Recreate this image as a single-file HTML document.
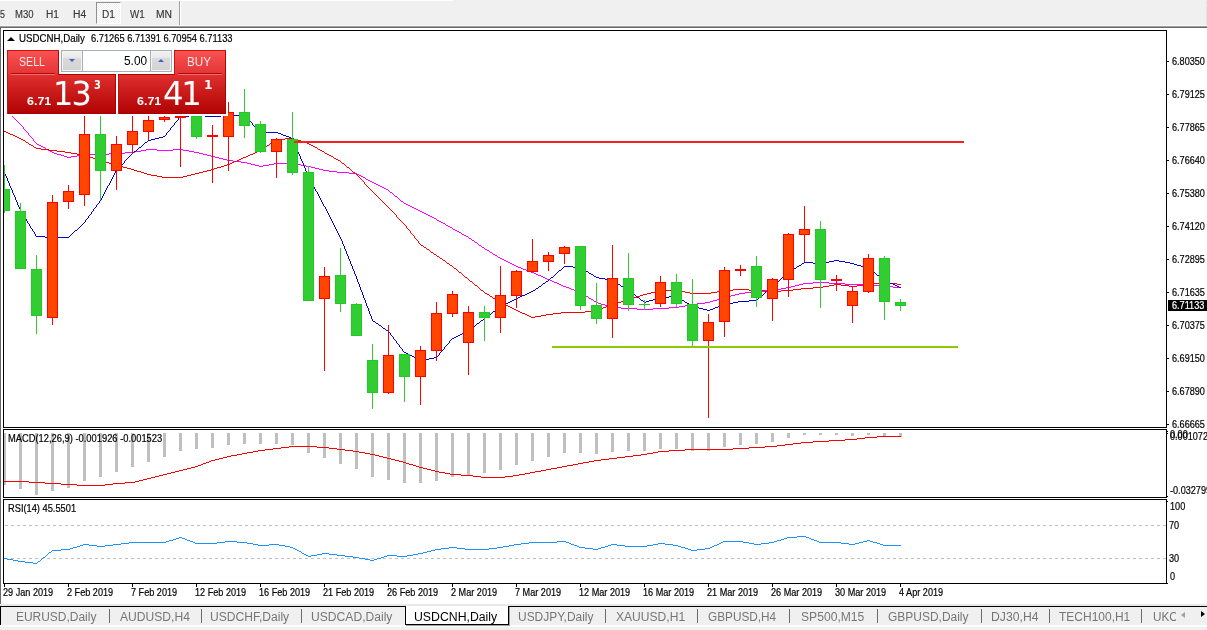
<!DOCTYPE html>
<html><head><meta charset="utf-8"><title>USDCNH,Daily</title>
<style>
html,body{margin:0;padding:0}
body{width:1207px;height:630px;position:relative;overflow:hidden;background:#fff;font-family:"Liberation Sans",sans-serif}
div{position:absolute;white-space:nowrap}
.ax{font-size:9.5px;line-height:12px;color:#000;letter-spacing:-0.2px}
.tf{font-size:10px;line-height:12px;top:8px;color:#333;letter-spacing:-0.2px}
.tab{font-size:12px;line-height:14px;top:609px;color:#808080;letter-spacing:-0.1px}
.sep{top:609px;width:1px;height:14px;background:#6c6c6c}
</style></head><body>
<!-- toolbar -->
<div style="left:0;top:0;width:1207px;height:26px;background:#f0f0f0"></div>
<div style="left:0;top:25px;width:1207px;height:1px;background:#f8f8f8"></div>
<div style="left:0;top:0;width:453px;height:1px;background:#fff"></div>
<div style="left:1206px;top:1px;width:1px;height:24px;background:#e4e4e4"></div>
<div style="left:0;top:26px;width:1207px;height:1px;background:#a0a0a0"></div>
<div style="left:0;top:27px;width:1207px;height:1px;background:#696969"></div>
<div style="left:0;top:27px;width:1px;height:577px;background:#696969"></div>
<div style="left:96px;top:2px;width:23px;height:20px;background:repeating-conic-gradient(#fff 0 25%,#f0f0f0 0 50%) 0 0/2px 2px;border:1px solid #fff;border-top-color:#909090;border-left-color:#909090;box-sizing:content-box"></div>
<div style="left:179px;top:1px;width:1px;height:24px;background:#a0a0a0"></div>
<div style="left:180px;top:1px;width:1px;height:24px;background:#fff"></div>
<div style="left:0.45px;top:9.80px;font-size:10px;line-height:1;color:#383838;transform:scaleX(0.884);transform-origin:0 0;-webkit-text-stroke:0.15px #383838;">5</div>
<div style="left:14.94px;top:9.80px;font-size:10px;line-height:1;color:#383838;transform:scaleX(0.951);transform-origin:0 0;-webkit-text-stroke:0.15px #383838;">M30</div>
<div style="left:45.59px;top:9.80px;font-size:10px;line-height:1;color:#383838;transform:scaleX(1.009);transform-origin:0 0;-webkit-text-stroke:0.15px #383838;">H1</div>
<div style="left:72.87px;top:9.80px;font-size:10px;line-height:1;color:#383838;transform:scaleX(1.034);transform-origin:0 0;-webkit-text-stroke:0.15px #383838;">H4</div>
<div style="left:101.89px;top:9.80px;font-size:10px;line-height:1;color:#383838;transform:scaleX(1.009);transform-origin:0 0;-webkit-text-stroke:0.15px #383838;">D1</div>
<div style="left:129.95px;top:9.80px;font-size:10px;line-height:1;color:#383838;transform:scaleX(0.979);transform-origin:0 0;-webkit-text-stroke:0.15px #383838;">W1</div>
<div style="left:155.77px;top:9.80px;font-size:10px;line-height:1;color:#383838;transform:scaleX(1.032);transform-origin:0 0;-webkit-text-stroke:0.15px #383838;">MN</div>
<svg width="1207" height="630" viewBox="0 0 1207 630" style="position:absolute;left:0;top:0" shape-rendering="crispEdges">
<defs><clipPath id="cm"><rect x="4" y="31" width="1162" height="396"/></clipPath><clipPath id="cd"><rect x="4" y="430" width="1162" height="67"/></clipPath><clipPath id="cr"><rect x="4" y="500" width="1162" height="83"/></clipPath></defs>
<g fill="#000">
<rect x="3" y="30" width="1164" height="1"/>
<rect x="3" y="30" width="1" height="554"/>
<rect x="1166" y="30" width="1" height="398"/>
<rect x="3" y="427" width="1164" height="1"/>
<rect x="3" y="429" width="1164" height="1"/>
<rect x="1166" y="429" width="1" height="69"/>
<rect x="3" y="497" width="1164" height="1"/>
<rect x="3" y="499" width="1164" height="1"/>
<rect x="1166" y="499" width="1" height="85"/>
<rect x="3" y="583" width="1164" height="1"/>
</g>
<rect x="3" y="428" width="1164" height="1" fill="#fff"/><rect x="3" y="498" width="1164" height="1" fill="#fff"/>
<g fill="#000">
<rect x="1167" y="61" width="2" height="1"/>
<rect x="1167" y="94" width="2" height="1"/>
<rect x="1167" y="127" width="2" height="1"/>
<rect x="1167" y="160" width="2" height="1"/>
<rect x="1167" y="193" width="2" height="1"/>
<rect x="1167" y="226" width="2" height="1"/>
<rect x="1167" y="259" width="2" height="1"/>
<rect x="1167" y="292" width="2" height="1"/>
<rect x="1167" y="325" width="2" height="1"/>
<rect x="1167" y="358" width="2" height="1"/>
<rect x="1167" y="391" width="2" height="1"/>
<rect x="1167" y="424" width="2" height="1"/>
<rect x="1167" y="431" width="1" height="1"/>
<rect x="1167" y="433" width="1" height="1"/>
<rect x="1167" y="496" width="1" height="1"/>
<rect x="1167" y="501" width="1" height="1"/>
<rect x="1167" y="583" width="1" height="1"/>
<rect x="4" y="584" width="1" height="3"/>
<rect x="68" y="584" width="1" height="3"/>
<rect x="132" y="584" width="1" height="3"/>
<rect x="196" y="584" width="1" height="3"/>
<rect x="260" y="584" width="1" height="3"/>
<rect x="324" y="584" width="1" height="3"/>
<rect x="388" y="584" width="1" height="3"/>
<rect x="452" y="584" width="1" height="3"/>
<rect x="516" y="584" width="1" height="3"/>
<rect x="580" y="584" width="1" height="3"/>
<rect x="644" y="584" width="1" height="3"/>
<rect x="708" y="584" width="1" height="3"/>
<rect x="772" y="584" width="1" height="3"/>
<rect x="836" y="584" width="1" height="3"/>
<rect x="900" y="584" width="1" height="3"/>
</g>
<g clip-path="url(#cm)">
<path d="M4 107h1v1h-1zM5 108h1v1h-1zM6 109h1v1h-1zM7 110h1v1h-1zM8 111h1v1h-1zM9 112h1v1h-1zM10 113h1v1h-1zM11 114h1v1h-1zM12 115h1v2h-1zM13 117h1v1h-1zM14 118h1v1h-1zM15 119h1v1h-1zM16 120h1v1h-1zM17 121h1v1h-1zM18 122h1v1h-1zM19 123h1v1h-1zM20 124h1v1h-1zM21 125h1v1h-1zM22 126h1v1h-1zM23 127h1v2h-1zM24 129h1v1h-1zM25 130h1v1h-1zM26 131h1v1h-1zM27 132h1v1h-1zM28 133h1v2h-1zM29 135h1v1h-1zM30 136h1v1h-1zM31 137h1v1h-1zM32 138h1v1h-1zM33 139h1v2h-1zM34 141h1v1h-1zM35 142h1v1h-1zM36 143h1v1h-1zM37 144h2v1h-2zM39 145h2v1h-2zM41 146h2v1h-2zM43 147h2v1h-2zM45 148h1v1h-1zM46 149h2v1h-2zM48 150h2v1h-2zM50 151h2v1h-2zM52 152h2v1h-2zM54 153h3v1h-3zM57 154h4v1h-4zM61 155h3v1h-3zM64 156h3v1h-3zM67 157h4v1h-4zM71 156h6v1h-6zM77 155h5v1h-5zM82 154h27v1h-27zM109 153h16v1h-16zM125 152h10v1h-10zM135 151h6v1h-6zM141 150h5v1h-5zM146 149h11v1h-11zM157 150h16v1h-16zM173 149h10v1h-10zM183 150h6v1h-6zM189 151h5v1h-5zM194 152h5v1h-5zM199 153h4v1h-4zM203 154h4v1h-4zM207 155h4v1h-4zM211 156h4v1h-4zM215 157h4v1h-4zM219 158h4v1h-4zM223 159h4v1h-4zM227 160h6v1h-6zM233 161h8v1h-8zM241 162h6v1h-6zM247 163h4v1h-4zM251 164h4v1h-4zM255 165h4v1h-4zM259 166h4v1h-4zM263 165h6v1h-6zM269 164h5v1h-5zM274 163h21v1h-21zM295 164h6v1h-6zM301 165h5v1h-5zM306 166h5v1h-5zM311 167h4v1h-4zM315 168h4v1h-4zM319 169h4v1h-4zM323 170h6v1h-6zM329 171h8v1h-8zM337 172h12v1h-12zM349 173h8v1h-8zM357 174h2v1h-2zM359 175h2v1h-2zM361 176h2v1h-2zM363 177h2v1h-2zM365 178h1v1h-1zM366 179h2v1h-2zM368 180h2v1h-2zM370 181h2v1h-2zM372 182h2v1h-2zM374 183h2v1h-2zM376 184h2v1h-2zM378 185h2v1h-2zM380 186h2v1h-2zM382 187h2v1h-2zM384 188h2v1h-2zM386 189h2v1h-2zM388 190h1v1h-1zM389 191h1v1h-1zM390 192h2v1h-2zM392 193h1v1h-1zM393 194h1v1h-1zM394 195h1v1h-1zM395 196h2v1h-2zM397 197h1v1h-1zM398 198h1v1h-1zM399 199h1v1h-1zM400 200h1v1h-1zM401 201h2v1h-2zM403 202h1v1h-1zM404 203h2v1h-2zM406 204h2v1h-2zM408 205h2v1h-2zM410 206h2v1h-2zM412 207h2v1h-2zM414 208h2v1h-2zM416 209h2v1h-2zM418 210h2v1h-2zM420 211h2v1h-2zM422 212h2v1h-2zM424 213h2v1h-2zM426 214h2v1h-2zM428 215h2v1h-2zM430 216h2v1h-2zM432 217h2v1h-2zM434 218h2v1h-2zM436 219h1v1h-1zM437 220h2v1h-2zM439 221h2v1h-2zM441 222h2v1h-2zM443 223h2v1h-2zM445 224h1v1h-1zM446 225h2v1h-2zM448 226h2v1h-2zM450 227h2v1h-2zM452 228h1v1h-1zM453 229h2v1h-2zM455 230h2v1h-2zM457 231h2v1h-2zM459 232h2v1h-2zM461 233h1v1h-1zM462 234h2v1h-2zM464 235h2v1h-2zM466 236h2v1h-2zM468 237h1v1h-1zM469 238h2v1h-2zM471 239h1v1h-1zM472 240h2v1h-2zM474 241h1v1h-1zM475 242h2v1h-2zM477 243h1v1h-1zM478 244h1v1h-1zM479 245h2v1h-2zM481 246h1v1h-1zM482 247h2v1h-2zM484 248h1v1h-1zM485 249h2v1h-2zM487 250h2v1h-2zM489 251h1v1h-1zM490 252h2v1h-2zM492 253h1v1h-1zM493 254h2v1h-2zM495 255h2v1h-2zM497 256h1v1h-1zM498 257h2v1h-2zM500 258h2v1h-2zM502 259h2v1h-2zM504 260h2v1h-2zM506 261h2v1h-2zM508 262h2v1h-2zM510 263h2v1h-2zM512 264h2v1h-2zM514 265h2v1h-2zM516 266h2v1h-2zM518 267h3v1h-3zM521 268h2v1h-2zM523 269h3v1h-3zM526 270h3v1h-3zM529 271h2v1h-2zM531 272h3v1h-3zM534 273h2v1h-2zM536 274h2v1h-2zM538 275h3v1h-3zM541 276h2v1h-2zM543 277h2v1h-2zM545 278h2v1h-2zM547 279h3v1h-3zM550 280h2v1h-2zM552 281h2v1h-2zM554 282h3v1h-3zM557 283h2v1h-2zM559 284h2v1h-2zM561 285h2v1h-2zM563 286h3v1h-3zM566 287h3v1h-3zM569 288h2v1h-2zM571 289h3v1h-3zM574 290h3v1h-3zM577 291h2v1h-2zM579 292h2v1h-2zM581 293h2v1h-2zM583 294h2v1h-2zM585 295h1v1h-1zM586 296h2v1h-2zM588 297h1v1h-1zM589 298h2v1h-2zM591 299h2v1h-2zM593 300h1v1h-1zM594 301h2v1h-2zM596 302h2v1h-2zM598 303h3v1h-3zM601 304h4v1h-4zM605 305h3v1h-3zM608 306h3v1h-3zM611 307h10v1h-10zM621 308h16v1h-16zM637 309h16v1h-16zM653 308h16v1h-16zM669 307h10v1h-10zM679 306h6v1h-6zM685 305h5v1h-5zM690 304h7v1h-7zM697 303h8v1h-8zM705 302h5v1h-5zM710 301h3v1h-3zM713 300h4v1h-4zM717 299h3v1h-3zM720 298h3v1h-3zM723 297h4v1h-4zM727 296h4v1h-4zM731 295h4v1h-4zM735 294h4v1h-4zM739 293h6v1h-6zM745 292h8v1h-8zM753 291h12v1h-12zM765 290h10v1h-10zM775 289h6v1h-6zM781 288h5v1h-5zM786 287h5v1h-5zM791 286h4v1h-4zM795 285h4v1h-4zM799 284h4v1h-4zM803 283h10v1h-10zM813 282h16v1h-16zM829 283h16v1h-16zM845 284h28v1h-28zM873 285h8v1h-8zM881 286h12v1h-12zM893 287h8v1h-8z" fill="#ff00ff" />
<path d="M4 131h2v1h-2zM6 132h2v1h-2zM8 133h2v1h-2zM10 134h3v1h-3zM13 135h2v1h-2zM15 136h2v1h-2zM17 137h2v1h-2zM19 138h2v1h-2zM21 139h2v1h-2zM23 140h2v1h-2zM25 141h1v1h-1zM26 142h2v1h-2zM28 143h1v1h-1zM29 144h2v1h-2zM31 145h2v1h-2zM33 146h1v1h-1zM34 147h2v1h-2zM36 148h5v1h-5zM41 149h8v1h-8zM49 150h8v1h-8zM57 151h8v1h-8zM65 152h6v1h-6zM71 153h6v1h-6zM77 154h5v1h-5zM82 155h4v1h-4zM86 156h3v1h-3zM89 157h4v1h-4zM93 158h3v1h-3zM96 159h3v1h-3zM99 160h3v1h-3zM102 161h3v1h-3zM105 162h4v1h-4zM109 163h3v1h-3zM112 164h3v1h-3zM115 165h4v1h-4zM119 166h4v1h-4zM123 167h4v1h-4zM127 168h4v1h-4zM131 169h3v1h-3zM134 170h3v1h-3zM137 171h4v1h-4zM141 172h3v1h-3zM144 173h3v1h-3zM147 174h4v1h-4zM151 175h6v1h-6zM157 176h5v1h-5zM162 177h21v1h-21zM183 176h4v1h-4zM187 175h4v1h-4zM191 174h4v1h-4zM195 173h4v1h-4zM199 172h4v1h-4zM203 171h4v1h-4zM207 170h4v1h-4zM211 169h3v1h-3zM214 168h3v1h-3zM217 167h4v1h-4zM221 166h3v1h-3zM224 165h3v1h-3zM227 164h3v1h-3zM230 163h2v1h-2zM232 162h2v1h-2zM234 161h3v1h-3zM237 160h2v1h-2zM239 159h2v1h-2zM241 158h2v1h-2zM243 157h3v1h-3zM246 156h2v1h-2zM248 155h2v1h-2zM250 154h3v1h-3zM253 153h2v1h-2zM255 152h2v1h-2zM257 151h2v1h-2zM259 150h2v1h-2zM261 149h2v1h-2zM263 148h1v1h-1zM264 147h2v1h-2zM266 146h1v1h-1zM267 145h2v1h-2zM269 144h1v1h-1zM270 143h1v1h-1zM271 142h2v1h-2zM273 141h1v1h-1zM274 140h2v1h-2zM276 139h9v1h-9zM285 138h9v1h-9zM294 139h3v1h-3zM297 140h4v1h-4zM301 141h3v1h-3zM304 142h3v1h-3zM307 143h2v1h-2zM309 144h2v1h-2zM311 145h2v1h-2zM313 146h2v1h-2zM315 147h2v1h-2zM317 148h1v1h-1zM318 149h2v1h-2zM320 150h2v1h-2zM322 151h2v1h-2zM324 152h1v1h-1zM325 153h2v1h-2zM327 154h2v1h-2zM329 155h2v1h-2zM331 156h2v1h-2zM333 157h1v1h-1zM334 158h2v1h-2zM336 159h2v1h-2zM338 160h2v1h-2zM340 161h1v1h-1zM341 162h1v1h-1zM342 163h2v1h-2zM344 164h1v1h-1zM345 165h1v1h-1zM346 166h1v1h-1zM347 167h2v1h-2zM349 168h1v1h-1zM350 169h1v1h-1zM351 170h1v1h-1zM352 171h1v1h-1zM353 172h2v1h-2zM355 173h1v1h-1zM356 174h1v1h-1zM357 175h1v1h-1zM358 176h1v1h-1zM359 177h1v1h-1zM360 178h1v1h-1zM361 179h1v1h-1zM362 180h1v1h-1zM363 181h1v1h-1zM364 182h1v2h-1zM365 184h1v1h-1zM366 185h1v1h-1zM367 186h1v1h-1zM368 187h1v1h-1zM369 188h1v1h-1zM370 189h1v1h-1zM371 190h1v1h-1zM372 191h1v1h-1zM373 192h1v1h-1zM374 193h1v1h-1zM375 194h1v1h-1zM376 195h1v1h-1zM377 196h1v1h-1zM378 197h1v1h-1zM379 198h1v1h-1zM380 199h1v1h-1zM381 200h1v1h-1zM382 201h1v1h-1zM383 202h1v1h-1zM384 203h1v1h-1zM385 204h1v1h-1zM386 205h1v1h-1zM387 206h1v1h-1zM388 207h1v1h-1zM389 208h1v1h-1zM390 209h1v1h-1zM391 210h1v1h-1zM392 211h1v1h-1zM393 212h1v1h-1zM394 213h1v1h-1zM395 214h1v1h-1zM396 215h1v2h-1zM397 217h1v1h-1zM398 218h1v1h-1zM399 219h1v1h-1zM400 220h1v1h-1zM401 221h1v1h-1zM402 222h1v1h-1zM403 223h1v1h-1zM404 224h1v1h-1zM405 225h1v1h-1zM406 226h1v2h-1zM407 228h1v1h-1zM408 229h1v1h-1zM409 230h1v1h-1zM410 231h1v2h-1zM411 233h1v1h-1zM412 234h1v1h-1zM413 235h1v1h-1zM414 236h1v2h-1zM415 238h1v1h-1zM416 239h1v1h-1zM417 240h1v1h-1zM418 241h1v2h-1zM419 243h1v1h-1zM420 244h1v1h-1zM421 245h2v1h-2zM423 246h1v1h-1zM424 247h2v1h-2zM426 248h1v1h-1zM427 249h2v1h-2zM429 250h1v1h-1zM430 251h1v1h-1zM431 252h2v1h-2zM433 253h1v1h-1zM434 254h2v1h-2zM436 255h1v1h-1zM437 256h2v1h-2zM439 257h1v1h-1zM440 258h2v1h-2zM442 259h1v1h-1zM443 260h2v1h-2zM445 261h1v1h-1zM446 262h1v1h-1zM447 263h2v1h-2zM449 264h1v1h-1zM450 265h2v1h-2zM452 266h1v1h-1zM453 267h1v1h-1zM454 268h2v1h-2zM456 269h1v1h-1zM457 270h1v1h-1zM458 271h1v1h-1zM459 272h2v1h-2zM461 273h1v1h-1zM462 274h1v1h-1zM463 275h1v1h-1zM464 276h1v1h-1zM465 277h2v1h-2zM467 278h1v1h-1zM468 279h1v1h-1zM469 280h1v1h-1zM470 281h2v1h-2zM472 282h1v1h-1zM473 283h1v1h-1zM474 284h1v1h-1zM475 285h2v1h-2zM477 286h1v1h-1zM478 287h1v1h-1zM479 288h1v1h-1zM480 289h1v1h-1zM481 290h2v1h-2zM483 291h1v1h-1zM484 292h1v1h-1zM485 293h2v1h-2zM487 294h2v1h-2zM489 295h1v1h-1zM490 296h2v1h-2zM492 297h1v1h-1zM493 298h2v1h-2zM495 299h2v1h-2zM497 300h1v1h-1zM498 301h2v1h-2zM500 302h2v1h-2zM502 303h2v1h-2zM504 304h2v1h-2zM506 305h2v1h-2zM508 306h2v1h-2zM510 307h2v1h-2zM512 308h2v1h-2zM514 309h2v1h-2zM516 310h2v1h-2zM518 311h2v1h-2zM520 312h2v1h-2zM522 313h3v1h-3zM525 314h2v1h-2zM527 315h2v1h-2zM529 316h2v1h-2zM531 317h4v1h-4zM535 316h6v1h-6zM541 315h5v1h-5zM546 314h7v1h-7zM553 313h8v1h-8zM561 312h24v1h-24zM585 311h8v1h-8zM593 310h5v1h-5zM598 309h3v1h-3zM601 308h2v1h-2zM603 307h3v1h-3zM606 306h3v1h-3zM609 305h2v1h-2zM611 304h3v1h-3zM614 303h3v1h-3zM617 302h4v1h-4zM621 301h3v1h-3zM624 300h3v1h-3zM627 299h3v1h-3zM630 298h3v1h-3zM633 297h4v1h-4zM637 296h3v1h-3zM640 295h3v1h-3zM643 294h4v1h-4zM647 293h4v1h-4zM651 292h4v1h-4zM655 291h4v1h-4zM659 290h20v1h-20zM679 291h6v1h-6zM685 292h5v1h-5zM690 293h21v1h-21zM711 292h6v1h-6zM717 291h5v1h-5zM722 290h11v1h-11zM733 289h16v1h-16zM749 290h16v1h-16zM765 291h16v1h-16zM781 290h12v1h-12zM793 289h8v1h-8zM801 288h12v1h-12zM813 287h10v1h-10zM823 286h6v1h-6zM829 285h5v1h-5zM834 284h7v1h-7zM841 285h8v1h-8zM849 286h8v1h-8zM857 285h8v1h-8zM865 284h8v1h-8zM873 283h8v1h-8zM881 282h8v1h-8zM889 283h8v1h-8zM897 284h4v1h-4z" fill="#ff0000" />
<path d="M4 172h1v2h-1zM5 174h1v2h-1zM6 176h1v2h-1zM7 178h1v3h-1zM8 181h1v2h-1zM9 183h1v3h-1zM10 186h1v2h-1zM11 188h1v2h-1zM12 190h1v3h-1zM13 193h1v2h-1zM14 195h1v2h-1zM15 197h1v3h-1zM16 200h1v2h-1zM17 202h1v3h-1zM18 205h1v2h-1zM19 207h1v2h-1zM20 209h1v2h-1zM21 211h1v2h-1zM22 213h1v2h-1zM23 215h1v1h-1zM24 216h1v2h-1zM25 218h1v1h-1zM26 219h1v2h-1zM27 221h1v2h-1zM28 223h1v1h-1zM29 224h1v2h-1zM30 226h1v2h-1zM31 228h1v1h-1zM32 229h1v2h-1zM33 231h1v1h-1zM34 232h1v2h-1zM35 234h1v2h-1zM36 236h9v1h-9zM45 237h24v1h-24zM69 236h1v1h-1zM70 235h1v1h-1zM71 234h1v1h-1zM72 233h1v1h-1zM73 232h1v1h-1zM74 231h1v1h-1zM75 230h2v1h-2zM77 229h1v1h-1zM78 228h1v1h-1zM79 227h1v1h-1zM80 226h1v1h-1zM81 225h1v1h-1zM82 224h1v1h-1zM83 223h1v1h-1zM84 222h1v1h-1zM85 220h1v2h-1zM86 219h1v1h-1zM87 218h1v1h-1zM88 216h1v2h-1zM89 215h1v1h-1zM90 214h1v1h-1zM91 212h1v2h-1zM92 211h1v1h-1zM93 209h1v2h-1zM94 208h1v1h-1zM95 207h1v1h-1zM96 205h1v2h-1zM97 204h1v1h-1zM98 203h1v1h-1zM99 201h1v2h-1zM100 200h1v1h-1zM101 198h1v2h-1zM102 196h1v2h-1zM103 194h1v2h-1zM104 192h1v2h-1zM105 190h1v2h-1zM106 188h1v2h-1zM107 186h1v2h-1zM108 185h1v1h-1zM109 183h1v2h-1zM110 181h1v2h-1zM111 179h1v2h-1zM112 177h1v2h-1zM113 175h1v2h-1zM114 173h1v2h-1zM115 171h1v2h-1zM116 170h1v1h-1zM117 169h1v1h-1zM118 168h1v1h-1zM119 167h1v1h-1zM120 166h1v1h-1zM121 165h1v1h-1zM122 164h1v1h-1zM123 163h1v1h-1zM124 161h1v2h-1zM125 160h1v1h-1zM126 159h1v1h-1zM127 158h1v1h-1zM128 157h1v1h-1zM129 156h1v1h-1zM130 155h1v1h-1zM131 154h1v1h-1zM132 153h1v1h-1zM133 152h1v1h-1zM134 151h2v1h-2zM136 150h1v1h-1zM137 149h1v1h-1zM138 148h1v1h-1zM139 147h2v1h-2zM141 146h1v1h-1zM142 145h1v1h-1zM143 144h1v1h-1zM144 143h1v1h-1zM145 142h2v1h-2zM147 141h1v1h-1zM148 140h3v1h-3zM151 139h4v1h-4zM155 138h4v1h-4zM159 137h4v1h-4zM163 136h2v1h-2zM165 135h1v1h-1zM166 133h1v2h-1zM167 132h1v1h-1zM168 131h1v1h-1zM169 130h1v1h-1zM170 128h1v2h-1zM171 127h1v1h-1zM172 126h1v1h-1zM173 125h1v1h-1zM174 123h1v2h-1zM175 122h1v1h-1zM176 121h1v1h-1zM177 120h1v1h-1zM178 118h1v2h-1zM179 117h1v1h-1zM180 116h9v1h-9zM189 115h16v1h-16zM205 116h16v1h-16zM221 115h24v1h-24zM245 116h1v1h-1zM246 117h1v1h-1zM247 118h1v1h-1zM248 119h1v1h-1zM249 120h1v1h-1zM250 121h1v1h-1zM251 122h1v1h-1zM252 123h1v2h-1zM253 125h1v1h-1zM254 126h1v1h-1zM255 127h1v1h-1zM256 128h1v1h-1zM257 129h1v1h-1zM258 130h1v1h-1zM259 131h1v1h-1zM260 132h18v1h-18zM278 133h3v1h-3zM281 134h2v1h-2zM283 135h3v1h-3zM286 136h3v1h-3zM289 137h2v1h-2zM291 138h2v1h-2zM292 139h1v1h-1zM293 140h1v2h-1zM294 142h1v2h-1zM295 144h1v3h-1zM296 147h1v2h-1zM297 149h1v3h-1zM298 152h1v2h-1zM299 154h1v2h-1zM300 156h1v3h-1zM301 159h1v2h-1zM302 161h1v2h-1zM303 163h1v3h-1zM304 166h1v2h-1zM305 168h1v3h-1zM306 171h1v2h-1zM307 173h1v2h-1zM308 175h1v2h-1zM309 177h1v2h-1zM310 179h1v2h-1zM311 181h1v2h-1zM312 183h1v2h-1zM313 185h1v2h-1zM314 187h1v2h-1zM315 189h1v2h-1zM316 191h1v1h-1zM317 192h1v2h-1zM318 194h1v2h-1zM319 196h1v2h-1zM320 198h1v2h-1zM321 200h1v2h-1zM322 202h1v2h-1zM323 204h1v2h-1zM324 206h1v1h-1zM325 207h1v2h-1zM326 209h1v2h-1zM327 211h1v2h-1zM328 213h1v2h-1zM329 215h1v2h-1zM330 217h1v2h-1zM331 219h1v2h-1zM332 221h1v2h-1zM333 223h1v2h-1zM334 225h1v2h-1zM335 227h1v2h-1zM336 229h1v2h-1zM337 231h1v2h-1zM338 233h1v2h-1zM339 235h1v2h-1zM340 237h1v2h-1zM341 239h1v2h-1zM342 241h1v3h-1zM343 244h1v2h-1zM344 246h1v3h-1zM345 249h1v2h-1zM346 251h1v3h-1zM347 254h1v2h-1zM348 256h1v3h-1zM349 259h1v2h-1zM350 261h1v3h-1zM351 264h1v2h-1zM352 266h1v3h-1zM353 269h1v2h-1zM354 271h1v3h-1zM355 274h1v2h-1zM356 276h1v3h-1zM357 279h1v3h-1zM358 282h1v2h-1zM359 284h1v3h-1zM360 287h1v3h-1zM361 290h1v2h-1zM362 292h1v3h-1zM363 295h1v3h-1zM364 298h1v2h-1zM365 300h1v3h-1zM366 303h1v3h-1zM367 306h1v2h-1zM368 308h1v3h-1zM369 311h1v3h-1zM370 314h1v2h-1zM371 316h1v3h-1zM372 319h1v2h-1zM373 321h2v1h-2zM375 322h1v1h-1zM376 323h2v1h-2zM378 324h1v1h-1zM379 325h2v1h-2zM381 326h1v1h-1zM382 327h1v1h-1zM383 328h2v1h-2zM385 329h1v1h-1zM386 330h2v1h-2zM388 331h1v1h-1zM389 332h1v1h-1zM390 333h1v2h-1zM391 335h1v1h-1zM392 336h1v1h-1zM393 337h1v2h-1zM394 339h1v1h-1zM395 340h1v1h-1zM396 341h1v2h-1zM397 343h1v1h-1zM398 344h1v1h-1zM399 345h1v2h-1zM400 347h1v1h-1zM401 348h1v1h-1zM402 349h1v2h-1zM403 351h1v1h-1zM404 352h2v1h-2zM406 353h2v1h-2zM408 354h2v1h-2zM410 355h2v1h-2zM412 356h2v1h-2zM414 357h2v1h-2zM416 358h2v1h-2zM418 359h2v1h-2zM420 360h3v1h-3zM423 359h6v1h-6zM429 358h5v1h-5zM434 357h3v1h-3zM437 356h1v1h-1zM438 355h1v1h-1zM439 353h1v2h-1zM440 352h1v1h-1zM441 351h1v1h-1zM442 350h1v1h-1zM443 349h1v1h-1zM444 347h1v2h-1zM445 346h1v1h-1zM446 345h1v1h-1zM447 344h1v1h-1zM448 343h1v1h-1zM449 341h1v2h-1zM450 340h1v1h-1zM451 339h1v1h-1zM452 338h2v1h-2zM454 337h2v1h-2zM456 336h2v1h-2zM458 335h2v1h-2zM460 334h2v1h-2zM462 333h2v1h-2zM464 332h2v1h-2zM466 331h2v1h-2zM468 330h1v1h-1zM469 329h2v1h-2zM471 328h1v1h-1zM472 327h1v1h-1zM473 326h2v1h-2zM475 325h1v1h-1zM476 324h1v1h-1zM477 323h2v1h-2zM479 322h1v1h-1zM480 321h1v1h-1zM481 320h2v1h-2zM483 319h1v1h-1zM484 318h1v1h-1zM485 317h2v1h-2zM487 316h1v1h-1zM488 315h1v1h-1zM489 314h2v1h-2zM491 313h1v1h-1zM492 312h1v1h-1zM493 311h2v1h-2zM495 310h1v1h-1zM496 309h1v1h-1zM497 308h2v1h-2zM499 307h1v1h-1zM500 306h2v1h-2zM502 305h2v1h-2zM504 304h2v1h-2zM506 303h2v1h-2zM508 302h2v1h-2zM510 301h2v1h-2zM512 300h2v1h-2zM514 299h2v1h-2zM516 298h2v1h-2zM518 297h2v1h-2zM520 296h2v1h-2zM522 295h3v1h-3zM525 294h2v1h-2zM527 293h2v1h-2zM529 292h2v1h-2zM531 291h2v1h-2zM533 290h2v1h-2zM535 289h1v1h-1zM536 288h2v1h-2zM538 287h1v1h-1zM539 286h2v1h-2zM541 285h1v1h-1zM542 284h1v1h-1zM543 283h2v1h-2zM545 282h1v1h-1zM546 281h2v1h-2zM548 280h1v1h-1zM549 279h1v1h-1zM550 278h1v1h-1zM551 277h2v1h-2zM553 276h1v1h-1zM554 275h1v1h-1zM555 274h1v1h-1zM556 273h1v1h-1zM557 272h1v1h-1zM558 271h1v1h-1zM559 270h2v1h-2zM561 269h1v1h-1zM562 268h1v1h-1zM563 267h1v1h-1zM564 266h9v1h-9zM573 267h8v1h-8zM581 268h2v1h-2zM583 269h2v1h-2zM585 270h1v1h-1zM586 271h2v1h-2zM588 272h1v1h-1zM589 273h2v1h-2zM591 274h2v1h-2zM593 275h1v1h-1zM594 276h2v1h-2zM596 277h3v1h-3zM599 278h6v1h-6zM605 279h5v1h-5zM610 280h3v1h-3zM613 281h2v1h-2zM615 282h2v1h-2zM617 283h1v1h-1zM618 284h2v1h-2zM620 285h1v1h-1zM621 286h2v1h-2zM623 287h2v1h-2zM625 288h1v1h-1zM626 289h2v1h-2zM628 290h1v1h-1zM629 291h2v1h-2zM631 292h1v1h-1zM632 293h1v1h-1zM633 294h2v1h-2zM635 295h1v1h-1zM636 296h1v1h-1zM637 297h2v1h-2zM639 298h1v1h-1zM640 299h1v1h-1zM641 300h2v1h-2zM643 301h1v1h-1zM644 302h2v1h-2zM646 301h3v1h-3zM649 300h4v1h-4zM653 299h3v1h-3zM656 298h3v1h-3zM659 297h10v1h-10zM669 296h8v1h-8zM677 297h2v1h-2zM679 298h2v1h-2zM681 299h1v1h-1zM682 300h2v1h-2zM684 301h1v1h-1zM685 302h2v1h-2zM687 303h2v1h-2zM689 304h1v1h-1zM690 305h2v1h-2zM692 306h3v1h-3zM695 307h4v1h-4zM699 308h4v1h-4zM703 309h4v1h-4zM707 310h3v1h-3zM710 309h3v1h-3zM713 308h2v1h-2zM715 307h3v1h-3zM718 306h3v1h-3zM721 305h2v1h-2zM723 304h4v1h-4zM727 303h6v1h-6zM733 302h5v1h-5zM738 301h11v1h-11zM749 300h8v1h-8zM757 299h1v1h-1zM758 298h1v1h-1zM759 297h2v1h-2zM761 296h1v1h-1zM762 295h1v1h-1zM763 294h1v1h-1zM764 293h1v1h-1zM765 292h1v1h-1zM766 291h1v1h-1zM767 290h2v1h-2zM769 289h1v1h-1zM770 288h1v1h-1zM771 287h1v1h-1zM772 286h1v1h-1zM773 285h1v1h-1zM774 284h1v1h-1zM775 283h2v1h-2zM777 282h1v1h-1zM778 281h1v1h-1zM779 280h1v1h-1zM780 279h1v1h-1zM781 278h1v1h-1zM782 277h1v1h-1zM783 276h2v1h-2zM785 275h1v1h-1zM786 274h1v1h-1zM787 273h1v1h-1zM788 272h1v1h-1zM789 271h2v1h-2zM791 270h2v1h-2zM793 269h1v1h-1zM794 268h2v1h-2zM796 267h1v1h-1zM797 266h2v1h-2zM799 265h2v1h-2zM801 264h1v1h-1zM802 263h2v1h-2zM804 262h9v1h-9zM813 263h10v1h-10zM823 262h6v1h-6zM829 261h5v1h-5zM834 260h5v1h-5zM839 261h6v1h-6zM845 262h5v1h-5zM850 263h4v1h-4zM854 264h3v1h-3zM857 265h4v1h-4zM861 266h3v1h-3zM864 267h3v1h-3zM867 268h2v1h-2zM869 269h2v1h-2zM871 270h1v1h-1zM872 271h1v1h-1zM873 272h2v1h-2zM875 273h1v1h-1zM876 274h1v1h-1zM877 275h2v1h-2zM879 276h1v1h-1zM880 277h1v1h-1zM881 278h2v1h-2zM883 279h1v1h-1zM884 280h2v1h-2zM886 281h2v1h-2zM888 282h2v1h-2zM890 283h3v1h-3zM893 284h2v1h-2zM895 285h2v1h-2zM897 286h2v1h-2zM899 287h2v1h-2z" fill="#0000d2" />
<rect x="4" y="165" width="1" height="48" fill="#32cd32"/>
<rect x="-1" y="189" width="11" height="22" fill="#24c824"/>
<rect x="0" y="190" width="9" height="20" fill="#32cd32"/>
<rect x="20" y="203" width="1" height="66" fill="#32cd32"/>
<rect x="15" y="211" width="11" height="58" fill="#24c824"/>
<rect x="16" y="212" width="9" height="56" fill="#32cd32"/>
<rect x="36" y="255" width="1" height="79" fill="#32cd32"/>
<rect x="31" y="269" width="11" height="47" fill="#24c824"/>
<rect x="32" y="270" width="9" height="45" fill="#32cd32"/>
<rect x="52" y="195" width="1" height="130" fill="#ff0000"/>
<rect x="47" y="202" width="11" height="116" fill="#ff0000"/>
<rect x="48" y="203" width="9" height="114" fill="#ff4500"/>
<rect x="68" y="185" width="1" height="24" fill="#ff0000"/>
<rect x="63" y="191" width="11" height="11" fill="#ff0000"/>
<rect x="64" y="192" width="9" height="9" fill="#ff4500"/>
<rect x="84" y="100" width="1" height="106" fill="#ff0000"/>
<rect x="79" y="134" width="11" height="61" fill="#ff0000"/>
<rect x="80" y="135" width="9" height="59" fill="#ff4500"/>
<rect x="100" y="100" width="1" height="100" fill="#32cd32"/>
<rect x="95" y="134" width="11" height="37" fill="#24c824"/>
<rect x="96" y="135" width="9" height="35" fill="#32cd32"/>
<rect x="116" y="136" width="1" height="54" fill="#ff0000"/>
<rect x="111" y="144" width="11" height="27" fill="#ff0000"/>
<rect x="112" y="145" width="9" height="25" fill="#ff4500"/>
<rect x="132" y="100" width="1" height="54" fill="#ff0000"/>
<rect x="127" y="131" width="11" height="14" fill="#ff0000"/>
<rect x="128" y="132" width="9" height="12" fill="#ff4500"/>
<rect x="148" y="105" width="1" height="35" fill="#ff0000"/>
<rect x="143" y="120" width="11" height="12" fill="#ff0000"/>
<rect x="144" y="121" width="9" height="10" fill="#ff4500"/>
<rect x="164" y="115" width="1" height="7" fill="#ff0000"/>
<rect x="159" y="117" width="11" height="3" fill="#ff0000"/>
<rect x="160" y="118" width="9" height="1" fill="#ff4500"/>
<rect x="180" y="100" width="1" height="67" fill="#ff0000"/>
<rect x="175" y="116" width="11" height="2" fill="#ff0000"/>
<rect x="196" y="116" width="1" height="23" fill="#32cd32"/>
<rect x="191" y="116" width="11" height="21" fill="#24c824"/>
<rect x="192" y="117" width="9" height="19" fill="#32cd32"/>
<rect x="212" y="125" width="1" height="58" fill="#ff0000"/>
<rect x="207" y="135" width="11" height="2" fill="#ff0000"/>
<rect x="228" y="102" width="1" height="69" fill="#ff0000"/>
<rect x="223" y="112" width="11" height="25" fill="#ff0000"/>
<rect x="224" y="113" width="9" height="23" fill="#ff4500"/>
<rect x="244" y="89" width="1" height="49" fill="#32cd32"/>
<rect x="239" y="112" width="11" height="14" fill="#24c824"/>
<rect x="240" y="113" width="9" height="12" fill="#32cd32"/>
<rect x="260" y="121" width="1" height="32" fill="#32cd32"/>
<rect x="255" y="124" width="11" height="28" fill="#24c824"/>
<rect x="256" y="125" width="9" height="26" fill="#32cd32"/>
<rect x="276" y="138" width="1" height="40" fill="#ff0000"/>
<rect x="271" y="139" width="11" height="13" fill="#ff0000"/>
<rect x="272" y="140" width="9" height="11" fill="#ff4500"/>
<rect x="292" y="112" width="1" height="63" fill="#32cd32"/>
<rect x="287" y="139" width="11" height="34" fill="#24c824"/>
<rect x="288" y="140" width="9" height="32" fill="#32cd32"/>
<rect x="308" y="166" width="1" height="135" fill="#32cd32"/>
<rect x="303" y="172" width="11" height="129" fill="#24c824"/>
<rect x="304" y="173" width="9" height="127" fill="#32cd32"/>
<rect x="324" y="267" width="1" height="104" fill="#ff0000"/>
<rect x="319" y="276" width="11" height="23" fill="#ff0000"/>
<rect x="320" y="277" width="9" height="21" fill="#ff4500"/>
<rect x="340" y="248" width="1" height="64" fill="#32cd32"/>
<rect x="335" y="275" width="11" height="29" fill="#24c824"/>
<rect x="336" y="276" width="9" height="27" fill="#32cd32"/>
<rect x="356" y="303" width="1" height="33" fill="#32cd32"/>
<rect x="351" y="304" width="11" height="32" fill="#24c824"/>
<rect x="352" y="305" width="9" height="30" fill="#32cd32"/>
<rect x="372" y="344" width="1" height="65" fill="#32cd32"/>
<rect x="367" y="360" width="11" height="33" fill="#24c824"/>
<rect x="368" y="361" width="9" height="31" fill="#32cd32"/>
<rect x="388" y="325" width="1" height="69" fill="#ff0000"/>
<rect x="383" y="355" width="11" height="38" fill="#ff0000"/>
<rect x="384" y="356" width="9" height="36" fill="#ff4500"/>
<rect x="404" y="354" width="1" height="48" fill="#32cd32"/>
<rect x="399" y="354" width="11" height="23" fill="#24c824"/>
<rect x="400" y="355" width="9" height="21" fill="#32cd32"/>
<rect x="420" y="346" width="1" height="59" fill="#ff0000"/>
<rect x="415" y="350" width="11" height="27" fill="#ff0000"/>
<rect x="416" y="351" width="9" height="25" fill="#ff4500"/>
<rect x="436" y="302" width="1" height="59" fill="#ff0000"/>
<rect x="431" y="313" width="11" height="38" fill="#ff0000"/>
<rect x="432" y="314" width="9" height="36" fill="#ff4500"/>
<rect x="452" y="291" width="1" height="26" fill="#ff0000"/>
<rect x="447" y="294" width="11" height="20" fill="#ff0000"/>
<rect x="448" y="295" width="9" height="18" fill="#ff4500"/>
<rect x="468" y="306" width="1" height="69" fill="#ff0000"/>
<rect x="463" y="312" width="11" height="31" fill="#ff0000"/>
<rect x="464" y="313" width="9" height="29" fill="#ff4500"/>
<rect x="484" y="306" width="1" height="35" fill="#32cd32"/>
<rect x="479" y="312" width="11" height="6" fill="#24c824"/>
<rect x="480" y="313" width="9" height="4" fill="#32cd32"/>
<rect x="500" y="266" width="1" height="67" fill="#ff0000"/>
<rect x="495" y="295" width="11" height="23" fill="#ff0000"/>
<rect x="496" y="296" width="9" height="21" fill="#ff4500"/>
<rect x="516" y="270" width="1" height="38" fill="#ff0000"/>
<rect x="511" y="271" width="11" height="25" fill="#ff0000"/>
<rect x="512" y="272" width="9" height="23" fill="#ff4500"/>
<rect x="532" y="239" width="1" height="33" fill="#ff0000"/>
<rect x="527" y="261" width="11" height="11" fill="#ff0000"/>
<rect x="528" y="262" width="9" height="9" fill="#ff4500"/>
<rect x="548" y="252" width="1" height="19" fill="#ff0000"/>
<rect x="543" y="255" width="11" height="7" fill="#ff0000"/>
<rect x="544" y="256" width="9" height="5" fill="#ff4500"/>
<rect x="564" y="246" width="1" height="18" fill="#ff0000"/>
<rect x="559" y="247" width="11" height="7" fill="#ff0000"/>
<rect x="560" y="248" width="9" height="5" fill="#ff4500"/>
<rect x="580" y="246" width="1" height="64" fill="#32cd32"/>
<rect x="575" y="246" width="11" height="60" fill="#24c824"/>
<rect x="576" y="247" width="9" height="58" fill="#32cd32"/>
<rect x="596" y="283" width="1" height="41" fill="#32cd32"/>
<rect x="591" y="305" width="11" height="14" fill="#24c824"/>
<rect x="592" y="306" width="9" height="12" fill="#32cd32"/>
<rect x="612" y="245" width="1" height="93" fill="#ff0000"/>
<rect x="607" y="278" width="11" height="41" fill="#ff0000"/>
<rect x="608" y="279" width="9" height="39" fill="#ff4500"/>
<rect x="628" y="253" width="1" height="58" fill="#32cd32"/>
<rect x="623" y="278" width="11" height="27" fill="#24c824"/>
<rect x="624" y="279" width="9" height="25" fill="#32cd32"/>
<rect x="644" y="300" width="1" height="10" fill="#32cd32"/>
<rect x="639" y="304" width="11" height="1" fill="#24c824"/>
<rect x="660" y="276" width="1" height="31" fill="#ff0000"/>
<rect x="655" y="282" width="11" height="22" fill="#ff0000"/>
<rect x="656" y="283" width="9" height="20" fill="#ff4500"/>
<rect x="676" y="274" width="1" height="33" fill="#32cd32"/>
<rect x="671" y="282" width="11" height="22" fill="#24c824"/>
<rect x="672" y="283" width="9" height="20" fill="#32cd32"/>
<rect x="692" y="279" width="1" height="67" fill="#32cd32"/>
<rect x="687" y="304" width="11" height="37" fill="#24c824"/>
<rect x="688" y="305" width="9" height="35" fill="#32cd32"/>
<rect x="708" y="314" width="1" height="104" fill="#ff0000"/>
<rect x="703" y="322" width="11" height="19" fill="#ff0000"/>
<rect x="704" y="323" width="9" height="17" fill="#ff4500"/>
<rect x="724" y="267" width="1" height="70" fill="#ff0000"/>
<rect x="719" y="270" width="11" height="52" fill="#ff0000"/>
<rect x="720" y="271" width="9" height="50" fill="#ff4500"/>
<rect x="740" y="265" width="1" height="11" fill="#ff0000"/>
<rect x="735" y="269" width="11" height="2" fill="#ff0000"/>
<rect x="756" y="256" width="1" height="51" fill="#32cd32"/>
<rect x="751" y="266" width="11" height="32" fill="#24c824"/>
<rect x="752" y="267" width="9" height="30" fill="#32cd32"/>
<rect x="772" y="278" width="1" height="43" fill="#ff0000"/>
<rect x="767" y="279" width="11" height="20" fill="#ff0000"/>
<rect x="768" y="280" width="9" height="18" fill="#ff4500"/>
<rect x="788" y="233" width="1" height="64" fill="#ff0000"/>
<rect x="783" y="234" width="11" height="46" fill="#ff0000"/>
<rect x="784" y="235" width="9" height="44" fill="#ff4500"/>
<rect x="804" y="206" width="1" height="56" fill="#ff0000"/>
<rect x="799" y="229" width="11" height="6" fill="#ff0000"/>
<rect x="800" y="230" width="9" height="4" fill="#ff4500"/>
<rect x="820" y="221" width="1" height="87" fill="#32cd32"/>
<rect x="815" y="229" width="11" height="51" fill="#24c824"/>
<rect x="816" y="230" width="9" height="49" fill="#32cd32"/>
<rect x="836" y="275" width="1" height="16" fill="#ff0000"/>
<rect x="831" y="279" width="11" height="2" fill="#ff0000"/>
<rect x="852" y="286" width="1" height="37" fill="#ff0000"/>
<rect x="847" y="291" width="11" height="15" fill="#ff0000"/>
<rect x="848" y="292" width="9" height="13" fill="#ff4500"/>
<rect x="868" y="254" width="1" height="39" fill="#ff0000"/>
<rect x="863" y="258" width="11" height="34" fill="#ff0000"/>
<rect x="864" y="259" width="9" height="32" fill="#ff4500"/>
<rect x="884" y="256" width="1" height="64" fill="#32cd32"/>
<rect x="879" y="258" width="11" height="44" fill="#24c824"/>
<rect x="880" y="259" width="9" height="42" fill="#32cd32"/>
<rect x="900" y="299" width="1" height="12" fill="#32cd32"/>
<rect x="895" y="302" width="11" height="4" fill="#24c824"/>
<rect x="896" y="303" width="9" height="2" fill="#32cd32"/>
<rect x="4" y="31" width="224" height="85" fill="#fff"/>
<rect x="294" y="141" width="670" height="2" fill="#f92020"/>
<rect x="552" y="346" width="406" height="2" fill="#90c800"/>
</g>
<g clip-path="url(#cd)">
<rect x="3" y="433" width="3" height="52" fill="#c0c0c0"/>
<rect x="19" y="433" width="3" height="56" fill="#c0c0c0"/>
<rect x="35" y="433" width="3" height="62" fill="#c0c0c0"/>
<rect x="51" y="433" width="3" height="58" fill="#c0c0c0"/>
<rect x="67" y="433" width="3" height="55" fill="#c0c0c0"/>
<rect x="83" y="433" width="3" height="48" fill="#c0c0c0"/>
<rect x="99" y="433" width="3" height="44" fill="#c0c0c0"/>
<rect x="115" y="433" width="3" height="39" fill="#c0c0c0"/>
<rect x="131" y="433" width="3" height="34" fill="#c0c0c0"/>
<rect x="147" y="433" width="3" height="29" fill="#c0c0c0"/>
<rect x="163" y="433" width="3" height="24" fill="#c0c0c0"/>
<rect x="179" y="433" width="3" height="18" fill="#c0c0c0"/>
<rect x="195" y="433" width="3" height="16" fill="#c0c0c0"/>
<rect x="211" y="433" width="3" height="15" fill="#c0c0c0"/>
<rect x="227" y="433" width="3" height="12" fill="#c0c0c0"/>
<rect x="243" y="433" width="3" height="11" fill="#c0c0c0"/>
<rect x="259" y="433" width="3" height="11" fill="#c0c0c0"/>
<rect x="275" y="433" width="3" height="11" fill="#c0c0c0"/>
<rect x="291" y="433" width="3" height="12" fill="#c0c0c0"/>
<rect x="307" y="433" width="3" height="20" fill="#c0c0c0"/>
<rect x="323" y="433" width="3" height="25" fill="#c0c0c0"/>
<rect x="339" y="433" width="3" height="31" fill="#c0c0c0"/>
<rect x="355" y="433" width="3" height="36" fill="#c0c0c0"/>
<rect x="371" y="433" width="3" height="44" fill="#c0c0c0"/>
<rect x="387" y="433" width="3" height="47" fill="#c0c0c0"/>
<rect x="403" y="433" width="3" height="50" fill="#c0c0c0"/>
<rect x="419" y="433" width="3" height="50" fill="#c0c0c0"/>
<rect x="435" y="433" width="3" height="48" fill="#c0c0c0"/>
<rect x="451" y="433" width="3" height="44" fill="#c0c0c0"/>
<rect x="467" y="433" width="3" height="43" fill="#c0c0c0"/>
<rect x="483" y="433" width="3" height="40" fill="#c0c0c0"/>
<rect x="499" y="433" width="3" height="37" fill="#c0c0c0"/>
<rect x="515" y="433" width="3" height="32" fill="#c0c0c0"/>
<rect x="531" y="433" width="3" height="28" fill="#c0c0c0"/>
<rect x="547" y="433" width="3" height="24" fill="#c0c0c0"/>
<rect x="563" y="433" width="3" height="20" fill="#c0c0c0"/>
<rect x="579" y="433" width="3" height="20" fill="#c0c0c0"/>
<rect x="595" y="433" width="3" height="21" fill="#c0c0c0"/>
<rect x="611" y="433" width="3" height="19" fill="#c0c0c0"/>
<rect x="627" y="433" width="3" height="18" fill="#c0c0c0"/>
<rect x="643" y="433" width="3" height="18" fill="#c0c0c0"/>
<rect x="659" y="433" width="3" height="16" fill="#c0c0c0"/>
<rect x="675" y="433" width="3" height="16" fill="#c0c0c0"/>
<rect x="691" y="433" width="3" height="18" fill="#c0c0c0"/>
<rect x="707" y="433" width="3" height="18" fill="#c0c0c0"/>
<rect x="723" y="433" width="3" height="14" fill="#c0c0c0"/>
<rect x="739" y="433" width="3" height="12" fill="#c0c0c0"/>
<rect x="755" y="433" width="3" height="11" fill="#c0c0c0"/>
<rect x="771" y="433" width="3" height="9" fill="#c0c0c0"/>
<rect x="787" y="433" width="3" height="5" fill="#c0c0c0"/>
<rect x="803" y="433" width="3" height="2" fill="#c0c0c0"/>
<rect x="819" y="433" width="3" height="2" fill="#c0c0c0"/>
<rect x="835" y="433" width="3" height="2" fill="#c0c0c0"/>
<rect x="851" y="433" width="3" height="3" fill="#c0c0c0"/>
<rect x="867" y="433" width="3" height="2" fill="#c0c0c0"/>
<rect x="883" y="433" width="3" height="3" fill="#c0c0c0"/>
<rect x="899" y="433" width="3" height="4" fill="#c0c0c0"/>
<path d="M4 481h25v1h-25zM29 482h16v1h-16zM45 483h16v1h-16zM61 484h16v1h-16zM77 485h28v1h-28zM105 484h8v1h-8zM113 483h12v1h-12zM125 482h10v1h-10zM135 481h4v1h-4zM139 480h4v1h-4zM143 479h4v1h-4zM147 478h4v1h-4zM151 477h4v1h-4zM155 476h4v1h-4zM159 475h4v1h-4zM163 474h4v1h-4zM167 473h4v1h-4zM171 472h4v1h-4zM175 471h4v1h-4zM179 470h4v1h-4zM183 469h4v1h-4zM187 468h4v1h-4zM191 467h4v1h-4zM195 466h3v1h-3zM198 465h3v1h-3zM201 464h2v1h-2zM203 463h3v1h-3zM206 462h3v1h-3zM209 461h2v1h-2zM211 460h4v1h-4zM215 459h4v1h-4zM219 458h4v1h-4zM223 457h4v1h-4zM227 456h4v1h-4zM231 455h6v1h-6zM237 454h5v1h-5zM242 453h5v1h-5zM247 452h6v1h-6zM253 451h5v1h-5zM258 450h7v1h-7zM265 449h8v1h-8zM273 448h8v1h-8zM281 447h8v1h-8zM289 446h28v1h-28zM317 447h12v1h-12zM329 448h8v1h-8zM337 449h8v1h-8zM345 450h8v1h-8zM353 451h6v1h-6zM359 452h6v1h-6zM365 453h5v1h-5zM370 454h5v1h-5zM375 455h4v1h-4zM379 456h4v1h-4zM383 457h4v1h-4zM387 458h4v1h-4zM391 459h4v1h-4zM395 460h4v1h-4zM399 461h4v1h-4zM403 462h3v1h-3zM406 463h3v1h-3zM409 464h4v1h-4zM413 465h3v1h-3zM416 466h3v1h-3zM419 467h4v1h-4zM423 468h4v1h-4zM427 469h4v1h-4zM431 470h4v1h-4zM435 471h4v1h-4zM439 472h6v1h-6zM445 473h5v1h-5zM450 474h11v1h-11zM461 475h12v1h-12zM473 476h8v1h-8zM481 477h24v1h-24zM505 476h8v1h-8zM513 475h6v1h-6zM519 474h6v1h-6zM525 473h5v1h-5zM530 472h5v1h-5zM535 471h6v1h-6zM541 470h5v1h-5zM546 469h5v1h-5zM551 468h6v1h-6zM557 467h5v1h-5zM562 466h5v1h-5zM567 465h6v1h-6zM573 464h5v1h-5zM578 463h5v1h-5zM583 462h6v1h-6zM589 461h5v1h-5zM594 460h7v1h-7zM601 459h8v1h-8zM609 458h8v1h-8zM617 457h8v1h-8zM625 456h8v1h-8zM633 455h8v1h-8zM641 454h6v1h-6zM647 453h6v1h-6zM653 452h5v1h-5zM658 451h11v1h-11zM669 450h16v1h-16zM685 449h48v1h-48zM733 448h16v1h-16zM749 447h16v1h-16zM765 446h12v1h-12zM777 445h8v1h-8zM785 444h8v1h-8zM793 443h8v1h-8zM801 442h12v1h-12zM813 441h16v1h-16zM829 440h16v1h-16zM845 439h12v1h-12zM857 438h8v1h-8zM865 437h12v1h-12zM877 436h24v1h-24z" fill="#ff0000" />
</g>
<g clip-path="url(#cr)">
<line x1="5" y1="525.5" x2="1166" y2="525.5" stroke="#c0c0c0" stroke-dasharray="3 3"/>
<line x1="5" y1="558.5" x2="1166" y2="558.5" stroke="#c0c0c0" stroke-dasharray="3 3"/>
<path d="M4 558h3v1h-3zM7 559h6v1h-6zM13 560h5v1h-5zM18 561h7v1h-7zM25 562h8v1h-8zM33 563h4v1h-4zM37 562h1v1h-1zM38 561h2v1h-2zM40 560h1v1h-1zM41 559h1v1h-1zM42 558h1v1h-1zM43 557h2v1h-2zM45 556h1v1h-1zM46 555h1v1h-1zM47 554h1v1h-1zM48 553h1v1h-1zM49 552h2v1h-2zM51 551h1v1h-1zM52 550h9v1h-9zM61 549h9v1h-9zM70 548h3v1h-3zM73 547h4v1h-4zM77 546h3v1h-3zM80 545h3v1h-3zM83 544h6v1h-6zM89 545h8v1h-8zM97 546h8v1h-8zM105 545h8v1h-8zM113 544h8v1h-8zM121 543h8v1h-8zM129 542h37v1h-37zM166 541h3v1h-3zM169 540h4v1h-4zM173 539h3v1h-3zM176 538h3v1h-3zM179 537h3v1h-3zM182 538h3v1h-3zM185 539h2v1h-2zM187 540h3v1h-3zM190 541h3v1h-3zM193 542h2v1h-2zM195 543h22v1h-22zM217 542h8v1h-8zM225 541h12v1h-12zM237 542h10v1h-10zM247 543h6v1h-6zM253 544h5v1h-5zM258 545h11v1h-11zM269 544h10v1h-10zM279 545h6v1h-6zM285 546h5v1h-5zM290 547h3v1h-3zM293 548h2v1h-2zM295 549h2v1h-2zM297 550h2v1h-2zM299 551h2v1h-2zM301 552h1v1h-1zM302 553h2v1h-2zM304 554h2v1h-2zM306 555h2v1h-2zM308 556h3v1h-3zM311 555h6v1h-6zM317 554h5v1h-5zM322 553h7v1h-7zM329 554h8v1h-8zM337 555h8v1h-8zM345 556h8v1h-8zM353 557h6v1h-6zM359 558h6v1h-6zM365 559h5v1h-5zM370 560h4v1h-4zM374 559h3v1h-3zM377 558h4v1h-4zM381 557h3v1h-3zM384 556h3v1h-3zM387 555h10v1h-10zM397 556h10v1h-10zM407 555h6v1h-6zM413 554h5v1h-5zM418 553h5v1h-5zM423 552h4v1h-4zM427 551h4v1h-4zM431 550h4v1h-4zM435 549h6v1h-6zM441 548h8v1h-8zM449 547h8v1h-8zM457 548h8v1h-8zM465 549h24v1h-24zM489 548h8v1h-8zM497 547h6v1h-6zM503 546h6v1h-6zM509 545h5v1h-5zM514 544h7v1h-7zM521 543h8v1h-8zM529 542h28v1h-28zM557 541h9v1h-9zM566 542h3v1h-3zM569 543h2v1h-2zM571 544h3v1h-3zM574 545h3v1h-3zM577 546h2v1h-2zM579 547h6v1h-6zM585 548h8v1h-8zM593 549h5v1h-5zM598 548h3v1h-3zM601 547h4v1h-4zM605 546h3v1h-3zM608 545h3v1h-3zM611 544h6v1h-6zM617 545h8v1h-8zM625 546h22v1h-22zM647 545h6v1h-6zM653 544h5v1h-5zM658 543h7v1h-7zM665 544h8v1h-8zM673 545h5v1h-5zM678 546h3v1h-3zM681 547h4v1h-4zM685 548h3v1h-3zM688 549h3v1h-3zM691 550h6v1h-6zM697 549h8v1h-8zM705 548h5v1h-5zM710 547h2v1h-2zM712 546h2v1h-2zM714 545h3v1h-3zM717 544h2v1h-2zM719 543h2v1h-2zM721 542h2v1h-2zM723 541h20v1h-20zM743 542h6v1h-6zM749 543h5v1h-5zM754 544h7v1h-7zM761 543h8v1h-8zM769 542h5v1h-5zM774 541h3v1h-3zM777 540h4v1h-4zM781 539h3v1h-3zM784 538h3v1h-3zM787 537h10v1h-10zM797 536h9v1h-9zM806 537h3v1h-3zM809 538h2v1h-2zM811 539h3v1h-3zM814 540h3v1h-3zM817 541h2v1h-2zM819 542h22v1h-22zM841 543h8v1h-8zM849 544h6v1h-6zM855 543h4v1h-4zM859 542h4v1h-4zM863 541h4v1h-4zM867 540h3v1h-3zM870 541h3v1h-3zM873 542h4v1h-4zM877 543h3v1h-3zM880 544h3v1h-3zM883 545h18v1h-18z" fill="#1e90ff" />
</g>
</svg>
<!-- title -->
<div style="left:6.5px;top:36.5px;width:0;height:0;border-left:4px solid transparent;border-right:4px solid transparent;border-bottom:4.5px solid #000"></div>
<div style="left:1171.54px;top:56.65px;font-size:10.3px;line-height:1;color:#000;transform:scaleX(0.885);transform-origin:0 0;-webkit-text-stroke:0.2px #000;">6.80350</div>
<div style="left:1171.54px;top:89.65px;font-size:10.3px;line-height:1;color:#000;transform:scaleX(0.885);transform-origin:0 0;-webkit-text-stroke:0.2px #000;">6.79125</div>
<div style="left:1171.54px;top:122.65px;font-size:10.3px;line-height:1;color:#000;transform:scaleX(0.885);transform-origin:0 0;-webkit-text-stroke:0.2px #000;">6.77865</div>
<div style="left:1171.54px;top:155.65px;font-size:10.3px;line-height:1;color:#000;transform:scaleX(0.885);transform-origin:0 0;-webkit-text-stroke:0.2px #000;">6.76640</div>
<div style="left:1171.54px;top:188.65px;font-size:10.3px;line-height:1;color:#000;transform:scaleX(0.885);transform-origin:0 0;-webkit-text-stroke:0.2px #000;">6.75380</div>
<div style="left:1171.54px;top:221.65px;font-size:10.3px;line-height:1;color:#000;transform:scaleX(0.885);transform-origin:0 0;-webkit-text-stroke:0.2px #000;">6.74120</div>
<div style="left:1171.54px;top:254.65px;font-size:10.3px;line-height:1;color:#000;transform:scaleX(0.885);transform-origin:0 0;-webkit-text-stroke:0.2px #000;">6.72895</div>
<div style="left:1171.54px;top:287.65px;font-size:10.3px;line-height:1;color:#000;transform:scaleX(0.885);transform-origin:0 0;-webkit-text-stroke:0.2px #000;">6.71635</div>
<div style="left:1171.54px;top:320.65px;font-size:10.3px;line-height:1;color:#000;transform:scaleX(0.885);transform-origin:0 0;-webkit-text-stroke:0.2px #000;">6.70375</div>
<div style="left:1171.54px;top:353.65px;font-size:10.3px;line-height:1;color:#000;transform:scaleX(0.885);transform-origin:0 0;-webkit-text-stroke:0.2px #000;">6.69150</div>
<div style="left:1171.54px;top:386.65px;font-size:10.3px;line-height:1;color:#000;transform:scaleX(0.885);transform-origin:0 0;-webkit-text-stroke:0.2px #000;">6.67890</div>
<div style="left:1171.54px;top:419.65px;font-size:10.3px;line-height:1;color:#000;transform:scaleX(0.885);transform-origin:0 0;-webkit-text-stroke:0.2px #000;">6.66665</div>
<div style="left:1168px;top:300px;width:39px;height:11px;background:#000"></div>
<div style="left:1171.54px;top:300.65px;font-size:10.3px;line-height:1;color:#fff;transform:scaleX(0.885);transform-origin:0 0;-webkit-text-stroke:0.2px #fff;">6.71133</div>
<div style="left:1170.14px;top:429.65px;font-size:10.3px;line-height:1;color:#000;transform:scaleX(0.885);transform-origin:0 0;-webkit-text-stroke:0.2px #000;">0.00</div>
<div style="left:1170.14px;top:431.65px;font-size:10.3px;line-height:1;color:#000;transform:scaleX(0.885);transform-origin:0 0;-webkit-text-stroke:0.2px #000;">0.001072</div>
<div style="left:1169.59px;top:485.65px;font-size:10.3px;line-height:1;color:#000;transform:scaleX(0.885);transform-origin:0 0;-webkit-text-stroke:0.2px #000;">-0.032799</div>
<div style="left:1169.82px;top:501.65px;font-size:10.3px;line-height:1;color:#000;transform:scaleX(0.885);transform-origin:0 0;-webkit-text-stroke:0.2px #000;">100</div>
<div style="left:1169.34px;top:520.65px;font-size:10.3px;line-height:1;color:#000;transform:scaleX(0.885);transform-origin:0 0;-webkit-text-stroke:0.2px #000;">70</div>
<div style="left:1169.44px;top:553.65px;font-size:10.3px;line-height:1;color:#000;transform:scaleX(0.885);transform-origin:0 0;-webkit-text-stroke:0.2px #000;">30</div>
<div style="left:1170.14px;top:571.65px;font-size:10.3px;line-height:1;color:#000;transform:scaleX(0.885);transform-origin:0 0;-webkit-text-stroke:0.2px #000;">0</div>
<div style="left:2.74px;top:587.65px;font-size:10.3px;line-height:1;color:#000;transform:scaleX(0.885);transform-origin:0 0;-webkit-text-stroke:0.2px #000;">29 Jan 2019</div>
<div style="left:66.74px;top:587.65px;font-size:10.3px;line-height:1;color:#000;transform:scaleX(0.885);transform-origin:0 0;-webkit-text-stroke:0.2px #000;">2 Feb 2019</div>
<div style="left:130.74px;top:587.65px;font-size:10.3px;line-height:1;color:#000;transform:scaleX(0.885);transform-origin:0 0;-webkit-text-stroke:0.2px #000;">7 Feb 2019</div>
<div style="left:194.52px;top:587.65px;font-size:10.3px;line-height:1;color:#000;transform:scaleX(0.885);transform-origin:0 0;-webkit-text-stroke:0.2px #000;">12 Feb 2019</div>
<div style="left:258.52px;top:587.65px;font-size:10.3px;line-height:1;color:#000;transform:scaleX(0.885);transform-origin:0 0;-webkit-text-stroke:0.2px #000;">16 Feb 2019</div>
<div style="left:322.74px;top:587.65px;font-size:10.3px;line-height:1;color:#000;transform:scaleX(0.885);transform-origin:0 0;-webkit-text-stroke:0.2px #000;">21 Feb 2019</div>
<div style="left:386.74px;top:587.65px;font-size:10.3px;line-height:1;color:#000;transform:scaleX(0.885);transform-origin:0 0;-webkit-text-stroke:0.2px #000;">26 Feb 2019</div>
<div style="left:450.74px;top:587.65px;font-size:10.3px;line-height:1;color:#000;transform:scaleX(0.885);transform-origin:0 0;-webkit-text-stroke:0.2px #000;">2 Mar 2019</div>
<div style="left:514.74px;top:587.65px;font-size:10.3px;line-height:1;color:#000;transform:scaleX(0.885);transform-origin:0 0;-webkit-text-stroke:0.2px #000;">7 Mar 2019</div>
<div style="left:578.52px;top:587.65px;font-size:10.3px;line-height:1;color:#000;transform:scaleX(0.885);transform-origin:0 0;-webkit-text-stroke:0.2px #000;">12 Mar 2019</div>
<div style="left:642.52px;top:587.65px;font-size:10.3px;line-height:1;color:#000;transform:scaleX(0.885);transform-origin:0 0;-webkit-text-stroke:0.2px #000;">16 Mar 2019</div>
<div style="left:706.74px;top:587.65px;font-size:10.3px;line-height:1;color:#000;transform:scaleX(0.885);transform-origin:0 0;-webkit-text-stroke:0.2px #000;">21 Mar 2019</div>
<div style="left:770.74px;top:587.65px;font-size:10.3px;line-height:1;color:#000;transform:scaleX(0.885);transform-origin:0 0;-webkit-text-stroke:0.2px #000;">26 Mar 2019</div>
<div style="left:834.84px;top:587.65px;font-size:10.3px;line-height:1;color:#000;transform:scaleX(0.885);transform-origin:0 0;-webkit-text-stroke:0.2px #000;">30 Mar 2019</div>
<div style="left:899.02px;top:587.65px;font-size:10.3px;line-height:1;color:#000;transform:scaleX(0.885);transform-origin:0 0;-webkit-text-stroke:0.2px #000;">4 Apr 2019</div>
<div id="title" style="left:18.67px;top:33.65px;font-size:10.3px;line-height:1;color:#000;transform:scaleX(0.943);transform-origin:0 0;-webkit-text-stroke:0.2px #000;">USDCNH,Daily</div>
<div style="left:90.54px;top:33.65px;font-size:10.3px;line-height:1;color:#000;transform:scaleX(0.903);transform-origin:0 0;-webkit-text-stroke:0.2px #000;">6.71265 6.71391 6.70954 6.71133</div>
<div style="left:7.95px;top:433.65px;font-size:10.3px;line-height:1;color:#000;transform:scaleX(0.907);transform-origin:0 0;-webkit-text-stroke:0.2px #000;">MACD(12,26,9) -0.001926 -0.001523</div>
<div style="left:7.66px;top:503.65px;font-size:10.3px;line-height:1;color:#000;transform:scaleX(0.901);transform-origin:0 0;-webkit-text-stroke:0.2px #000;">RSI(14) 45.5501</div>
<!-- one click trading widget -->
<div id="w" style="left:7px;top:50px;width:219px;height:64px">
 <div style="left:51px;top:0;width:117px;height:24px;background:#fff"></div>
 <div style="left:0;top:0;width:52px;height:24px;background:linear-gradient(#fa5252,#e43636);box-shadow:inset 1px 1px 0 #c81414, inset -1px 0 0 #b80404"></div>
 <div style="left:167px;top:0;width:52px;height:24px;background:linear-gradient(#fa5252,#e43636);box-shadow:inset 1px 1px 0 #c81414, inset -1px 0 0 #b80404"></div>
 <div style="left:0;top:24px;width:109px;height:40px;background:linear-gradient(#e03030,#b00202);box-shadow:inset 1px 0 0 #c01414, inset -1px 0 0 #a80404, inset 0 -1px 0 #a80000"></div>
 <div style="left:111px;top:24px;width:108px;height:40px;background:linear-gradient(#e03030,#b00202);box-shadow:inset 1px 0 0 #c01414, inset -1px 0 0 #a80404, inset 0 -1px 0 #a80000"></div>
 <div style="left:109px;top:24px;width:2px;height:40px;background:#fff"></div>
 <div style="left:51px;top:24px;width:117px;height:1px;background:#b40000"></div>
 <div style="left:109px;top:24px;width:2px;height:1px;background:#fff"></div>
 <div style="left:4px;top:23px;width:44px;height:1px;background:#b00808"></div>
 <div style="left:4px;top:24px;width:44px;height:1px;background:#f27070"></div>
 <div style="left:171px;top:23px;width:44px;height:1px;background:#b00808"></div>
 <div style="left:171px;top:24px;width:44px;height:1px;background:#f27070"></div>
 <div style="left:54px;top:0;width:109px;height:20px;border:1px solid #a9adb5;background:#fff"></div>
 <div style="left:55px;top:1px;width:20px;height:20px;background:linear-gradient(#f2f2f2 0,#e8e8e8 36%,#dadada 37%,#d3d3d3 100%);box-shadow:inset 0 0 0 1px #f4f4f4;border-right:1px solid #a9adb5"></div>
 <div style="left:143px;top:1px;width:20px;height:20px;background:linear-gradient(#f2f2f2 0,#e8e8e8 36%,#dadada 37%,#d3d3d3 100%);box-shadow:inset 0 0 0 1px #f4f4f4;border-left:1px solid #a9adb5"></div>
 <div style="left:61.5px;top:9px;width:0;height:0;border-left:3px solid transparent;border-right:3px solid transparent;border-top:3.5px solid #4462c4"></div>
 <div style="left:150.5px;top:8.5px;width:0;height:0;border-left:3px solid transparent;border-right:3px solid transparent;border-bottom:3.5px solid #4462c4"></div>
</div>
<div id="sell" style="left:18.92px;top:56.15px;font-size:12.3px;line-height:1;color:#ffe8e8;transform:scaleX(0.864);transform-origin:0 0;">SELL</div>
<div id="buy" style="left:186.77px;top:56.15px;font-size:12.3px;line-height:1;color:#ffe8e8;transform:scaleX(0.948);transform-origin:0 0;">BUY</div>
<div id="vol" style="left:123.93px;top:54.15px;font-size:13.3px;line-height:1;color:#000;transform:scaleX(0.893);transform-origin:0 0;">5.00</div>
<div id="p1s" style="left:26.76px;top:95.00px;font-size:11.6px;line-height:1;color:#fff;font-weight:bold;transform:scaleX(1.075);transform-origin:0 0;">6.71</div>
<div id="p1b" style="left:52.99px;top:78.35px;font-size:32.9px;line-height:1;color:#fff;letter-spacing:-1.87px;transform:scaleX(0.971);transform-origin:0 0;font-family:'DejaVu Sans','Liberation Sans',sans-serif;text-rendering:geometricPrecision;">13</div>
<div id="p1u" style="left:94.36px;top:79.50px;font-size:11.6px;line-height:1;color:#fff;font-weight:bold;transform:scaleX(0.846);transform-origin:0 0;font-family:'DejaVu Sans','Liberation Sans',sans-serif;">3</div>
<div id="p2s" style="left:136.76px;top:95.00px;font-size:11.6px;line-height:1;color:#fff;font-weight:bold;transform:scaleX(1.075);transform-origin:0 0;">6.71</div>
<div id="p2b" style="left:163.29px;top:78.35px;font-size:32.9px;line-height:1;color:#fff;letter-spacing:-2.31px;transform:scaleX(0.981);transform-origin:0 0;font-family:'DejaVu Sans','Liberation Sans',sans-serif;text-rendering:geometricPrecision;">41</div>
<div id="p2u" style="left:204.05px;top:79.50px;font-size:11.6px;line-height:1;color:#fff;font-weight:bold;transform:scaleX(1.061);transform-origin:0 0;font-family:'DejaVu Sans','Liberation Sans',sans-serif;">1</div>
<!-- bottom tab bar -->
<div style="left:0;top:604px;width:1207px;height:2px;background:#e8e8e8"></div>
<div style="left:0;top:606px;width:1207px;height:20px;background:#f0f0f0"></div>
<div style="left:0;top:606px;width:1207px;height:1px;background:#000"></div>
<div style="left:0;top:606px;width:1px;height:19px;background:#000"></div>
<div style="left:0;top:625px;width:1207px;height:2px;background:#fcfcfc"></div>
<div style="left:0;top:627px;width:1207px;height:3px;background:#f0f0f0"></div>
<div style="left:405px;top:606px;width:102px;height:18px;background:#fff;border:1px solid #000;border-top:none;box-shadow:1px 1px 0 #a0a0a0"></div>
<div style="left:16.44px;top:611.30px;font-size:12px;line-height:1;color:#767676;transform:scaleX(0.996);transform-origin:0 0;">EURUSD,Daily</div>
<div style="left:120.00px;top:611.30px;font-size:12px;line-height:1;color:#767676;transform:scaleX(1.008);transform-origin:0 0;">AUDUSD,H4</div>
<div style="left:210.19px;top:611.30px;font-size:12px;line-height:1;color:#767676;transform:scaleX(1.006);transform-origin:0 0;">USDCHF,Daily</div>
<div style="left:311.29px;top:611.30px;font-size:12px;line-height:1;color:#767676;transform:scaleX(1.009);transform-origin:0 0;">USDCAD,Daily</div>
<div style="left:518.40px;top:611.30px;font-size:12px;line-height:1;color:#767676;transform:scaleX(0.996);transform-origin:0 0;">USDJPY,Daily</div>
<div style="left:615.70px;top:611.30px;font-size:12px;line-height:1;color:#767676;transform:scaleX(1.006);transform-origin:0 0;">XAUUSD,H1</div>
<div style="left:708.31px;top:611.30px;font-size:12px;line-height:1;color:#767676;transform:scaleX(0.982);transform-origin:0 0;">GBPUSD,H4</div>
<div style="left:801.15px;top:611.30px;font-size:12px;line-height:1;color:#767676;transform:scaleX(1.010);transform-origin:0 0;">SP500,M15</div>
<div style="left:888.10px;top:611.30px;font-size:12px;line-height:1;color:#767676;transform:scaleX(0.998);transform-origin:0 0;">GBPUSD,Daily</div>
<div style="left:990.52px;top:611.30px;font-size:12px;line-height:1;color:#767676;transform:scaleX(1.017);transform-origin:0 0;">DJ30,H4</div>
<div style="left:1058.66px;top:611.30px;font-size:12px;line-height:1;color:#767676;transform:scaleX(0.999);transform-origin:0 0;">TECH100,H1</div>
<div style="left:1152.52px;top:611.30px;font-size:12px;line-height:1;color:#767676;transform:scaleX(0.980);transform-origin:0 0;">UKO</div>
<div style="left:414.48px;top:611.30px;font-size:12px;line-height:1;color:#000;transform:scaleX(1.023);transform-origin:0 0;">USDCNH,Daily</div>
<div class="sep" style="left:109px"></div>
<div class="sep" style="left:201px"></div>
<div class="sep" style="left:301px"></div>
<div class="sep" style="left:605px"></div>
<div class="sep" style="left:697px"></div>
<div class="sep" style="left:789px"></div>
<div class="sep" style="left:877px"></div>
<div class="sep" style="left:981px"></div>
<div class="sep" style="left:1049px"></div>
<div class="sep" style="left:1141px"></div>
<div style="left:1176px;top:607px;width:31px;height:18px;background:#f0f0f0"></div>
<div style="left:1181px;top:612px;width:0;height:0;border-top:3px solid transparent;border-bottom:3px solid transparent;border-right:4px solid #a0a0a0"></div>
<div style="left:1201px;top:611px;width:0;height:0;border-top:3.5px solid transparent;border-bottom:3.5px solid transparent;border-left:4px solid #000"></div>
</body></html>
